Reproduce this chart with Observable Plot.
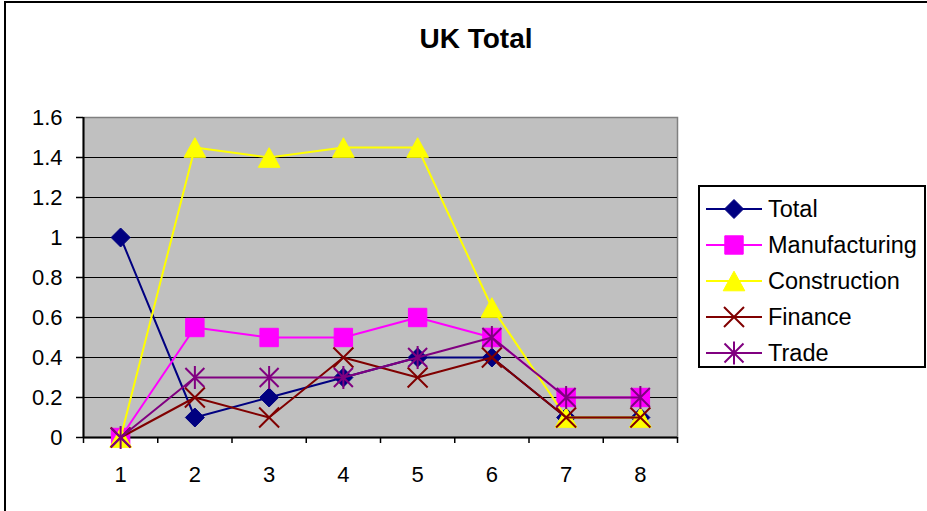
<!DOCTYPE html>
<html>
<head>
<meta charset="utf-8">
<script src="https://cdn.jsdelivr.net/npm/d3@7"></script>
<script src="https://cdn.jsdelivr.net/npm/@observablehq/plot@0.6"></script>
<style>
  html, body { margin: 0; padding: 0; background: #fff; }
  #wrap { position: relative; width: 927px; height: 511px; overflow: hidden; font-family: "Liberation Sans", Arial, sans-serif; }
  #border { position: absolute; left: 4px; top: 1px; width: 1000px; height: 600px; border-left: 2px solid #000; border-top: 2px solid #000; box-sizing: border-box; }
  #title { position: absolute; top: 23px; left: 476px; transform: translateX(-50%); font-size: 28px; font-weight: bold; white-space: nowrap; color: #000; }
  #legend { position: absolute; left: 698px; top: 185px; width: 228px; height: 183px; border: 2px solid #000; box-sizing: border-box; background: #fff; padding-top: 4px; }
  .row { display: flex; align-items: center; height: 36px; }
  .row svg { margin-left: 6px; margin-right: 6px; }
  .row span { font-size: 23.5px; color: #000; }
  #chart { position: absolute; left: 0; top: 0; }
</style>
</head>
<body>
<div id="wrap">
  <div id="border"></div>
  <div id="chart"></div>
  <div id="title">UK Total</div>
  <div id="legend"></div>
</div>
<script>
// ---- Data ----
const categories = [1, 2, 3, 4, 5, 6, 7, 8];
const total         = [1.0, 0.1, 0.2, 0.3, 0.4, 0.4, 0.1, 0.1];
const manufacturing = [0.0, 0.55, 0.5, 0.5, 0.6, 0.5, 0.2, 0.2];
const construction  = [0.0, 1.45, 1.4, 1.45, 1.45, 0.65, 0.1, 0.1];
const finance       = [0.0, 0.2, 0.1, 0.4, 0.3, 0.4, 0.1, 0.1];
const trade         = [0.0, 0.3, 0.3, 0.3, 0.4, 0.5, 0.2, 0.2];
const seriesNames = ["Total", "Manufacturing", "Construction", "Finance", "Trade"];
const yTicks = [0, 0.2, 0.4, 0.6, 0.8, 1.0, 1.2, 1.4, 1.6];
const yTickLabels = ["0", "0.2", "0.4", "0.6", "0.8", "1", "1.2", "1.4", "1.6"];
const xTickLabels = ["1", "2", "3", "4", "5", "6", "7", "8"];

// ---- Styles ----
const colors = { Total: "#000080", Manufacturing: "#FF00FF", Construction: "#FFFF00", Finance: "#800000", Trade: "#800080" };

const symDiamond = { draw(ctx, size) { const r = Math.sqrt(size / Math.PI) * 0.95; ctx.moveTo(0, -r); ctx.lineTo(r, 0); ctx.lineTo(0, r); ctx.lineTo(-r, 0); ctx.closePath(); } };
const symSquare = { draw(ctx, size) { const r = Math.sqrt(size / Math.PI) * 0.92; ctx.moveTo(-r, -r); ctx.lineTo(r, -r); ctx.lineTo(r, r); ctx.lineTo(-r, r); ctx.closePath(); } };
const symTriangle = { draw(ctx, size) { const r = Math.sqrt(size / Math.PI); const w = r * 1.08, h = r * 0.98; ctx.moveTo(0, -h); ctx.lineTo(w, h); ctx.lineTo(-w, h); ctx.closePath(); } };
const symTimes = { draw(ctx, size) { const r = Math.sqrt(size / Math.PI); ctx.moveTo(-r, -r); ctx.lineTo(r, r); ctx.moveTo(r, -r); ctx.lineTo(-r, r); } };
const symStar = { draw(ctx, size) { const r = Math.sqrt(size / Math.PI); const a = r * 0.95, v = r * 1.15; ctx.moveTo(-a, -a); ctx.lineTo(a, a); ctx.moveTo(a, -a); ctx.lineTo(-a, a); ctx.moveTo(0, -v); ctx.lineTo(0, v); } };

const styles = {
  Total:         { symbol: symDiamond,  fill: colors.Total, stroke: colors.Total },
  Manufacturing: { symbol: symSquare,   fill: colors.Manufacturing, stroke: colors.Manufacturing },
  Construction:  { symbol: symTriangle, fill: colors.Construction, stroke: colors.Construction },
  Finance:       { symbol: symTimes,    fill: "none", stroke: colors.Finance },
  Trade:         { symbol: symStar,     fill: "none", stroke: colors.Trade }
};

const seriesValues = { Total: total, Manufacturing: manufacturing, Construction: construction, Finance: finance, Trade: trade };
const rows = seriesNames.flatMap(name => categories.map((c, i) => ({ series: name, x: c, y: seriesValues[name][i] })));

const boundaries = d3.range(0.5, 8.51, 1);

const marks = [
  Plot.frame({ fill: "#C0C0C0", stroke: "#808080", strokeWidth: 1.5 }),
  Plot.gridY(yTicks.slice(1, -1), { stroke: "#000", strokeOpacity: 1, strokeWidth: 1.2 }),
  Plot.axisY(yTicks, { tickSize: 7, tickPadding: 14, tickFormat: (d, i) => yTickLabels[i], fontSize: 22, label: null, stroke: "#000", strokeWidth: 1.5 }),
  Plot.axisX(boundaries, { tickSize: 6, tickFormat: () => "", label: null, stroke: "#000", strokeWidth: 1.5 }),
  Plot.axisX(categories, { tickSize: 0, tickPadding: 29, tickFormat: (d, i) => xTickLabels[i], fontSize: 22, label: null }),
  Plot.ruleY([0], { stroke: "#000", strokeWidth: 2 }),
  Plot.ruleX([0.5], { y1: 0, y2: 1.6, stroke: "#000", strokeWidth: 2 })
];

for (const name of seriesNames) {
  const data = rows.filter(d => d.series === name);
  const st = styles[name];
  marks.push(Plot.line(data, { x: "x", y: "y", stroke: colors[name], strokeWidth: 2 }));
  marks.push(Plot.dot(data, { x: "x", y: "y", r: 10, symbol: () => st.symbol, fill: st.fill, stroke: st.stroke, strokeWidth: st.fill === "none" ? 2 : 1 }));
}

const chart = Plot.plot({
  width: 927,
  height: 511,
  marginLeft: 83,
  marginRight: 250,
  marginTop: 117,
  marginBottom: 74,
  style: { fontFamily: "'Liberation Sans', Arial, sans-serif", background: "transparent", color: "#000" },
  x: { type: "linear", domain: [0.5, 8.5] },
  y: { domain: [0, 1.6] },
  symbol: { type: "identity" },
  marks
});
document.getElementById("chart").appendChild(chart);

// ---- Legend ----
const legend = document.getElementById("legend");
for (const name of seriesNames) {
  const st = styles[name];
  const row = document.createElement("div");
  row.className = "row";
  const svg = d3.create("svg").attr("width", 56).attr("height", 26);
  svg.append("line").attr("x1", 0).attr("x2", 56).attr("y1", 13).attr("y2", 13).attr("stroke", colors[name]).attr("stroke-width", 2);
  svg.append("path").attr("transform", "translate(28,13)")
    .attr("d", d3.symbol().type(st.symbol).size(Math.PI * 100)())
    .attr("fill", st.fill).attr("stroke", st.stroke).attr("stroke-width", st.fill === "none" ? 2 : 1);
  row.appendChild(svg.node());
  const span = document.createElement("span");
  span.textContent = name;
  row.appendChild(span);
  legend.appendChild(row);
}
</script>
</body>
</html>
